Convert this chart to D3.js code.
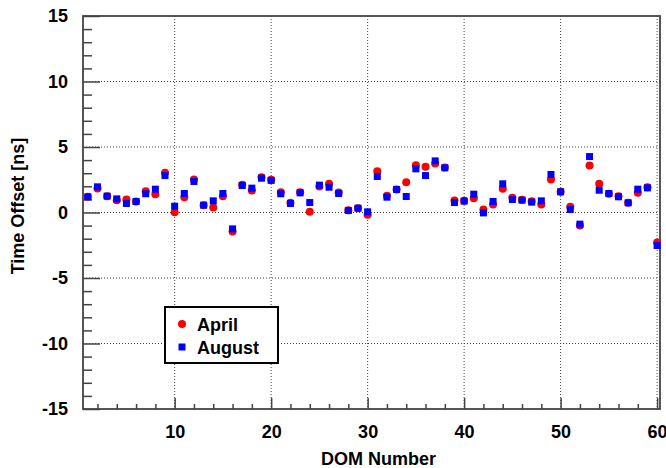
<!DOCTYPE html>
<html>
<head>
<meta charset="utf-8">
<script src="https://cdn.jsdelivr.net/npm/d3@7"></script>
<style>
  body { margin: 0; background: #fff; }
  svg text { font-family: "Liberation Sans", Arial, sans-serif; font-weight: bold; }
</style>
</head>
<body>
<script>
// DOM numbers (x categories)
const domNumbers = [
   1,  2,  3,  4,  5,  6,  7,  8,  9, 10,
  11, 12, 13, 14, 15, 16, 17, 18, 19, 20,
  21, 22, 23, 24, 25, 26, 27, 28, 29, 30,
  31, 32, 33, 34, 35, 36, 37, 38, 39, 40,
  41, 42, 43, 44, 45, 46, 47, 48, 49, 50,
  51, 52, 53, 54, 55, 56, 57, 58, 59, 60
];

// Time offsets [ns]
const april = [
  1.20, 1.83, 1.25, 0.94, 0.99, 0.84, 1.63, 1.40, 3.03, 0.02,
  1.17, 2.52, 0.56, 0.38, 1.25, -1.45, 2.11, 1.68, 2.70, 2.50,
  1.55, 0.74, 1.55, 0.05, 1.98, 2.19, 1.53, 0.18, 0.33, -0.18,
  3.15, 1.27, 1.76, 2.31, 3.61, 3.49, 3.74, 3.43, 0.92, 0.89,
  1.09, 0.23, 0.61, 1.81, 1.12, 0.97, 0.86, 0.61, 2.52, 1.58,
  0.43, -0.99, 3.59, 2.19, 1.43, 1.25, 0.74, 1.50, 1.93, -2.29
];
const august = [
  1.20, 1.96, 1.25, 1.04, 0.69, 0.84, 1.43, 1.78, 2.82, 0.48,
  1.45, 2.37, 0.56, 0.89, 1.45, -1.25, 2.06, 1.86, 2.62, 2.45,
  1.43, 0.69, 1.50, 0.76, 2.09, 1.93, 1.45, 0.15, 0.33, 0.05,
  2.75, 1.17, 1.76, 1.22, 3.33, 2.82, 3.94, 3.41, 0.76, 0.87,
  1.40, -0.03, 0.84, 2.19, 0.99, 0.94, 0.79, 0.89, 2.90, 1.58,
  0.23, -0.89, 4.27, 1.70, 1.45, 1.20, 0.74, 1.78, 1.88, -2.52
];

// Axes / ticks
const xMajor = [10, 20, 30, 40, 50, 60];
const xMinor = [2, 4, 6, 8, 12, 14, 16, 18, 22, 24, 26, 28, 32, 34, 36, 38,
                42, 44, 46, 48, 52, 54, 56, 58];
const yMajor = [-15, -10, -5, 0, 5, 10, 15];
const yMinor = [-14, -13, -12, -11, -9, -8, -7, -6, -4, -3, -2, -1,
                1, 2, 3, 4, 6, 7, 8, 9, 11, 12, 13, 14];
const xGrid = [10, 20, 30, 40, 50, 60];
const yGrid = [-10, -5, 0, 5, 10];

const W = 666, H = 468;
const plot = { left: 83, right: 660, top: 16, bottom: 409 };

const x = d3.scaleLinear().domain([0.5, 60.3]).range([plot.left, plot.right]);
const y = d3.scaleLinear().domain([-15, 15]).range([plot.bottom, plot.top]);

const svg = d3.select("body").append("svg")
  .attr("width", W)
  .attr("height", H);

svg.append("rect").attr("width", W).attr("height", H).attr("fill", "#fff");

// Grid lines (dotted)
const grid = svg.append("g")
  .attr("stroke", "#444")
  .attr("stroke-width", 1)
  .attr("stroke-dasharray", "1,2");

grid.selectAll(".gx").data(xGrid).enter().append("line")
  .attr("x1", d => x(d)).attr("x2", d => x(d))
  .attr("y1", plot.top).attr("y2", plot.bottom);

grid.selectAll(".gy").data(yGrid).enter().append("line")
  .attr("x1", plot.left).attr("x2", plot.right)
  .attr("y1", d => y(d)).attr("y2", d => y(d));

// Axes: minor then major ticks (pointing inward)
const axisColor = "#444";
const fmt = d => String(d); // plain hyphen for negatives

function styleAxis(g) {
  g.select(".domain").remove();
  g.selectAll(".tick line").attr("stroke", axisColor).attr("stroke-width", 1.5);
  g.selectAll(".tick text")
    .attr("fill", "#000")
    .style("font-size", "18px");
}

svg.append("g")
  .attr("transform", `translate(${plot.left},0)`)
  .call(d3.axisLeft(y).tickValues(yMinor).tickSize(-9).tickFormat(""))
  .call(styleAxis);

svg.append("g")
  .attr("transform", `translate(${plot.left},0)`)
  .call(d3.axisLeft(y).tickValues(yMajor).tickSize(-17).tickPadding(15).tickFormat(fmt))
  .call(styleAxis);

svg.append("g")
  .attr("transform", `translate(0,${plot.bottom})`)
  .call(d3.axisBottom(x).tickValues(xMinor).tickSize(-5).tickFormat(""))
  .call(styleAxis);

svg.append("g")
  .attr("transform", `translate(0,${plot.bottom})`)
  .call(d3.axisBottom(x).tickValues(xMajor).tickSize(-11).tickPadding(16).tickFormat(fmt))
  .call(styleAxis);

// Frame
svg.append("rect")
  .attr("x", plot.left).attr("y", plot.top)
  .attr("width", plot.right - plot.left)
  .attr("height", plot.bottom - plot.top)
  .attr("fill", "none")
  .attr("stroke", axisColor)
  .attr("stroke-width", 1.8);

// Axis titles
svg.append("text")
  .attr("x", (plot.left + plot.right) / 2 + 7)
  .attr("y", 465)
  .attr("text-anchor", "middle")
  .style("font-size", "18px")
  .text("DOM Number");

svg.append("text")
  .attr("transform", `translate(24,${206}) rotate(-90)`)
  .attr("text-anchor", "middle")
  .style("font-size", "18px")
  .text("Time Offset [ns]");

// Data: April (red circles), August (blue squares) on top
const pts = svg.append("g");

pts.selectAll(".apr").data(domNumbers).enter().append("circle")
  .attr("cx", (d) => x(d))
  .attr("cy", (d, i) => y(april[i]))
  .attr("r", 4)
  .attr("fill", "#ff0000");

const sq = 7;
pts.selectAll(".aug").data(domNumbers).enter().append("rect")
  .attr("x", d => x(d) - sq / 2)
  .attr("y", (d, i) => y(august[i]) - sq / 2)
  .attr("width", sq)
  .attr("height", sq)
  .attr("fill", "#0000ff");

// Legend
const legend = svg.append("g");
legend.append("rect")
  .attr("x", 165).attr("y", 307)
  .attr("width", 113).attr("height", 56)
  .attr("fill", "#fff")
  .attr("stroke", "#000")
  .attr("stroke-width", 2);

legend.append("circle")
  .attr("cx", 182).attr("cy", 324).attr("r", 4)
  .attr("fill", "#ff0000");
legend.append("rect")
  .attr("x", 182 - 3.5).attr("y", 347 - 3.5)
  .attr("width", 7).attr("height", 7)
  .attr("fill", "#0000ff");

legend.append("text")
  .attr("x", 197).attr("y", 331)
  .style("font-size", "18px")
  .text("April");
legend.append("text")
  .attr("x", 197).attr("y", 354)
  .style("font-size", "18px")
  .text("August");
</script>
</body>
</html>
